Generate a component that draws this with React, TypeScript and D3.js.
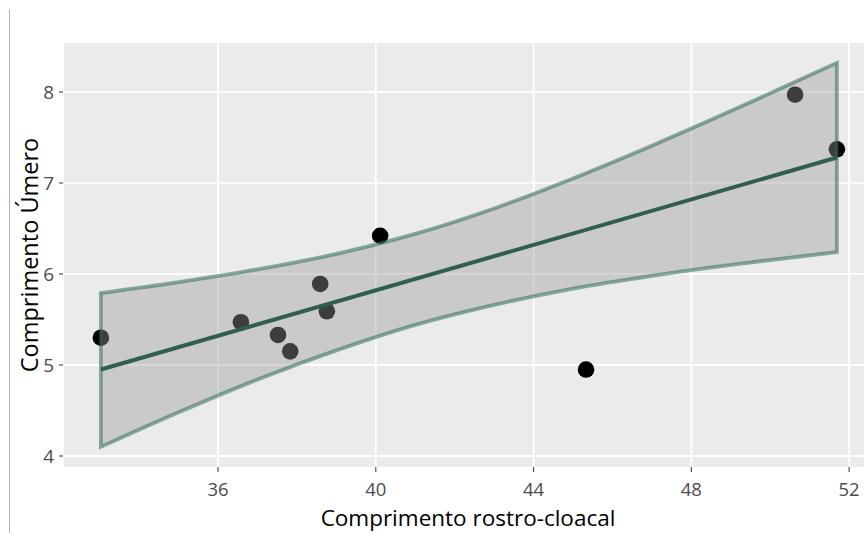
import { useEffect, useRef } from "react";
import * as d3 from "d3";

// snout-vent length (x) and humerus length (y)
const crlValues = [33.03, 36.58, 37.52, 37.83, 38.59, 38.76, 40.11, 45.33, 50.63, 51.69];
const humerusValues = [5.3, 5.47, 5.33, 5.15, 5.89, 5.59, 6.42, 4.95, 7.97, 7.37];

// fitted line ends
const fitX = [33.03, 51.69];
const fitY = [4.95, 7.28];

// confidence band, read at a few x positions
const bandX = [33.03, 35, 37, 39, 41, 43, 45, 47, 49, 51.69];
const bandLower = [4.1, 4.48, 4.84, 5.16, 5.44, 5.66, 5.84, 5.98, 6.1, 6.24];
const bandUpper = [5.79, 5.91, 6.05, 6.22, 6.44, 6.72, 7.05, 7.41, 7.79, 8.32];

const xTicks = [36, 40, 44, 48, 52];
const yTicks = [4, 5, 6, 7, 8];

const W = 864;
const H = 533;
const panel = { left: 64, top: 43, right: 872, bottom: 467 };

export default function App() {
  const ref = useRef<SVGSVGElement>(null);

  useEffect(() => {
    const svg = d3.select(ref.current);
    svg.selectAll("*").remove();

    const x = d3.scaleLinear().domain([32.095, 52.58]).range([panel.left, panel.right]);
    const y = d3.scaleLinear().domain([3.879, 8.538]).range([panel.bottom, panel.top]);

    const font = "'Open Sans', 'DejaVu Sans', sans-serif";

    // left rule of the page
    svg.append("line")
      .attr("x1", 9.5).attr("x2", 9.5)
      .attr("y1", 9).attr("y2", H)
      .attr("stroke", "#b4b4b4").attr("stroke-width", 1);

    // panel
    svg.append("rect")
      .attr("x", panel.left).attr("y", panel.top)
      .attr("width", panel.right - panel.left)
      .attr("height", panel.bottom - panel.top)
      .attr("fill", "#ebebeb");

    const grid = svg.append("g").attr("stroke", "#ffffff").attr("stroke-width", 1.8);
    grid.selectAll(".gx").data(xTicks).join("line")
      .attr("x1", d => x(d)).attr("x2", d => x(d))
      .attr("y1", panel.top).attr("y2", panel.bottom);
    grid.selectAll(".gy").data(yTicks).join("line")
      .attr("class", "gy")
      .attr("x1", panel.left).attr("x2", panel.right)
      .attr("y1", d => y(d)).attr("y2", d => y(d));

    // points
    svg.append("g").selectAll("circle")
      .data(crlValues.map((v, i) => [v, humerusValues[i]]))
      .join("circle")
      .attr("cx", d => x(d[0]))
      .attr("cy", d => y(d[1]))
      .attr("r", 8.3)
      .attr("fill", "#000000");

    // confidence band
    const bandData = bandX.map((v, i) => ({ x: v, lo: bandLower[i], hi: bandUpper[i] }));
    const area = d3.area<{ x: number; lo: number; hi: number }>()
      .x(d => x(d.x))
      .y0(d => y(d.lo))
      .y1(d => y(d.hi))
      .curve(d3.curveCatmullRom);
    svg.append("path")
      .attr("d", area(bandData))
      .attr("fill", "rgba(153,153,153,0.4)")
      .attr("stroke", "#2f6b5a")
      .attr("stroke-opacity", 0.55)
      .attr("stroke-width", 3.8)
      .attr("stroke-linejoin", "miter");

    // fitted line
    const line = d3.line<number>().x(d => x(d)).y((d, i) => y(fitY[i]));
    svg.append("path")
      .attr("d", line(fitX))
      .attr("fill", "none")
      .attr("stroke", "#2f5f52")
      .attr("stroke-width", 4);

    // axes
    const ax = svg.append("g");
    ax.selectAll(".tx").data(xTicks).join("line")
      .attr("x1", d => x(d)).attr("x2", d => x(d))
      .attr("y1", panel.bottom).attr("y2", panel.bottom + 5)
      .attr("stroke", "#333333").attr("stroke-width", 1);
    ax.selectAll(".lx").data(xTicks).join("text")
      .attr("class", "lx")
      .attr("x", d => x(d))
      .attr("y", 496)
      .attr("text-anchor", "middle")
      .attr("font-family", font)
      .attr("font-size", 18.5)
      .attr("fill", "#4d4d4d")
      .text(d => d);
    ax.selectAll(".ty").data(yTicks).join("line")
      .attr("class", "ty")
      .attr("x1", panel.left - 5).attr("x2", panel.left - 1)
      .attr("y1", d => y(d)).attr("y2", d => y(d))
      .attr("stroke", "#333333").attr("stroke-width", 1);
    ax.selectAll(".ly").data(yTicks).join("text")
      .attr("class", "ly")
      .attr("x", 54)
      .attr("y", d => y(d) + 7)
      .attr("text-anchor", "end")
      .attr("font-family", font)
      .attr("font-size", 19)
      .attr("fill", "#4d4d4d")
      .text(d => d);

    svg.append("text")
      .attr("x", (panel.left + panel.right) / 2)
      .attr("y", 526)
      .attr("text-anchor", "middle")
      .attr("font-family", font)
      .attr("font-size", 22.5)
      .attr("fill", "#000000")
      .text("Comprimento rostro-cloacal");

    svg.append("text")
      .attr("transform", `translate(38, ${(panel.top + panel.bottom) / 2}) rotate(-90)`)
      .attr("text-anchor", "middle")
      .attr("font-family", font)
      .attr("font-size", 23.5)
      .attr("fill", "#000000")
      .text("Comprimento Úmero");
  }, []);

  return (
    <div style={{ position: "fixed", left: 0, top: 0, width: W, height: H, background: "#fff" }}>
      <svg ref={ref} width={W} height={H} style={{ display: "block" }}></svg>
    </div>
  );
}
